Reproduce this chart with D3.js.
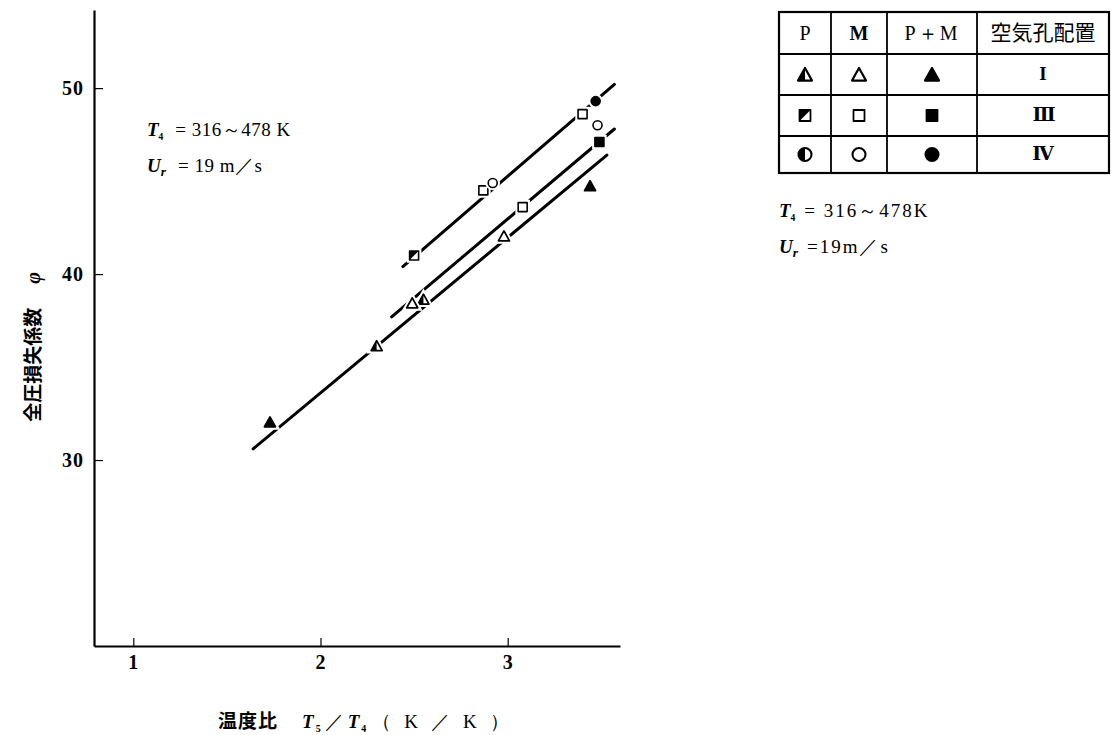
<!DOCTYPE html>
<html>
<head>
<meta charset="utf-8">
<script src="https://cdn.jsdelivr.net/npm/d3@7"></script>
<style>
  html, body { margin: 0; padding: 0; background: #fff; }
  svg { display: block; }
  .serif { font-family: "Liberation Serif", "DejaVu Serif", serif; }
  .cjk { font-family: "Noto Sans CJK JP", "Noto Sans", sans-serif; }
</style>
</head>
<body>
<svg id="chart" width="1111" height="735"></svg>
<script>
// ---- data -------------------------------------------------------------
const xTicks = [1, 2, 3];
const yTicks = [30, 40, 50];

// Hole arrangement I (triangles): P = half filled, M = open, P+M = filled
const triP  = [[2.30, 36.1], [2.55, 38.6]];
const triM  = [[2.49, 38.4], [2.98, 42.0]];
const triPM = [[1.73, 32.0], [3.44, 44.7]];
// Hole arrangement III (squares)
const sqP   = [[2.50, 41.0]];
const sqM   = [[2.87, 44.5], [3.08, 43.6], [3.40, 48.6]];
const sqPM  = [[3.49, 47.1]];
// Hole arrangement IV (circles)
const cirM  = [[2.92, 44.9], [3.48, 48.0]];
const cirPM = [[3.47, 49.3]];

// fitted trend lines
const lineUpper  = [[2.44, 40.4], [3.57, 50.2]];
const lineMiddle = [[2.38, 37.7], [3.57, 47.8]];
const lineLower  = [[1.64, 30.6], [3.53, 46.4]];

const legendHeader = ["P", "M", "P＋M", "空気孔配置"];
const legendRows = [
  { shape: "tri", label: "I" },
  { shape: "sq",  label: "Ⅲ" },
  { shape: "cir", label: "Ⅳ" }
];

// ---- layout -----------------------------------------------------------
const svg = d3.select("#chart");
const x = d3.scaleLinear().domain([0.79, 3.6]).range([94, 620]);
const y = d3.scaleLinear().domain([20, 54.2]).range([646, 10]);

// ---- axes -------------------------------------------------------------
const xAxis = svg.append("g")
  .attr("transform", `translate(0,${y(20)})`)
  .call(d3.axisBottom(x).tickValues(xTicks).tickSize(-8).tickSizeOuter(0)
    .tickPadding(9).tickFormat(d3.format("d")));
const yAxis = svg.append("g")
  .attr("transform", `translate(${x(0.79)},0)`)
  .call(d3.axisLeft(y).tickValues(yTicks).tickSize(-9).tickSizeOuter(0)
    .tickPadding(10).tickFormat(d3.format("d")));

[xAxis, yAxis].forEach(g => {
  g.select(".domain").attr("stroke", "#000").attr("stroke-width", 2.2);
  g.selectAll(".tick line").attr("stroke", "#000").attr("stroke-width", 1.2);
  g.selectAll(".tick text")
    .attr("class", "serif")
    .attr("font-size", 20)
    .attr("font-weight", "bold")
    .attr("letter-spacing", 1)
    .attr("fill", "#000");
});

// ---- trend lines -------------------------------------------------------
const lineGen = d3.line().x(d => x(d[0])).y(d => y(d[1]));
[lineUpper, lineMiddle, lineLower].forEach(l => {
  svg.append("path")
    .attr("d", lineGen(l))
    .attr("fill", "none")
    .attr("stroke", "#000")
    .attr("stroke-width", 3)
    .attr("stroke-linecap", "round");
});

// ---- marker drawing ----------------------------------------------------
// kind: "P" half filled, "M" open, "PM" filled
function drawMarker(g, shape, kind, cx, cy, s) {
  const m = g.append("g").attr("transform", `translate(${cx},${cy})`);
  const sw = Math.max(1.6, s * 0.16);
  let outline;
  if (shape === "tri") {
    const h = s * 0.9;
    outline = `M0,${-h * 0.6}L${s / 2},${h * 0.4}L${-s / 2},${h * 0.4}Z`;
    m.append("path").attr("d", outline).attr("fill", "#fff")
      .attr("stroke", "#fff").attr("stroke-width", sw + 4);
    m.append("path").attr("d", outline)
      .attr("fill", kind === "PM" ? "#000" : "#fff");
    if (kind === "P") {
      m.append("path").attr("d", `M0,${-h * 0.6}L0,${h * 0.4}L${-s / 2},${h * 0.4}Z`)
        .attr("fill", "#000");
    }
  } else if (shape === "sq") {
    const a = s / 2;
    outline = `M${-a},${-a}H${a}V${a}H${-a}Z`;
    m.append("path").attr("d", outline).attr("fill", "#fff")
      .attr("stroke", "#fff").attr("stroke-width", sw + 4);
    m.append("path").attr("d", outline)
      .attr("fill", kind === "PM" ? "#000" : "#fff");
    if (kind === "P") {
      m.append("path").attr("d", `M${-a},${-a}H${a}L${-a},${a}Z`).attr("fill", "#000");
    }
  } else {
    const r = s / 2;
    m.append("circle").attr("r", r).attr("fill", "#fff")
      .attr("stroke", "#fff").attr("stroke-width", sw + 4);
    m.append("circle").attr("r", r).attr("fill", kind === "PM" ? "#000" : "#fff");
    if (kind === "P") {
      m.append("path").attr("d", `M0,${-r}A${r},${r} 0 0 0 0,${r}Z`).attr("fill", "#000");
    }
    outline = null;
  }
  if (outline) {
    m.append("path").attr("d", outline).attr("fill", "none")
      .attr("stroke", "#000").attr("stroke-width", sw).attr("stroke-linejoin", "round");
  } else {
    m.append("circle").attr("r", s / 2).attr("fill", "none")
      .attr("stroke", "#000").attr("stroke-width", sw);
  }
}

const pts = svg.append("g");
const series = [
  ["tri", "P", triP], ["tri", "M", triM], ["tri", "PM", triPM],
  ["sq", "P", sqP], ["sq", "M", sqM], ["sq", "PM", sqPM],
  ["cir", "M", cirM], ["cir", "PM", cirPM]
];
const plotSize = { tri: 11, sq: 9, cir: 9 };
series.forEach(([shape, kind, data]) => {
  data.forEach(d => drawMarker(pts, shape, kind, x(d[0]), y(d[1]), plotSize[shape]));
});

// ---- condition notes ----------------------------------------------------
function condNote(tx, ty, fs, gap, ls, line1, line2) {
  const t1 = svg.append("text").attr("class", "serif").attr("x", tx).attr("y", ty)
    .attr("font-size", fs).attr("fill", "#000");
  t1.append("tspan").attr("font-style", "italic").attr("font-weight", "bold").text("T");
  t1.append("tspan").attr("font-size", fs * 0.5).attr("font-weight", "bold").attr("dy", 4).text("4");
  t1.append("tspan").attr("dy", -4).attr("dx", gap).attr("letter-spacing", ls).text(line1);

  const t2 = svg.append("text").attr("class", "serif").attr("x", tx).attr("y", ty + 36)
    .attr("font-size", fs).attr("fill", "#000");
  t2.append("tspan").attr("font-style", "italic").attr("font-weight", "bold").text("U");
  t2.append("tspan").attr("font-size", fs * 0.7).attr("font-style", "italic")
    .attr("font-weight", "bold").attr("dy", 4).text("r");
  t2.append("tspan").attr("dy", -4).attr("dx", gap).attr("letter-spacing", ls).text(line2);
}
condNote(147, 136, 19, 12, 0.5, "=  316～478 K", "=  19 m／s");
condNote(779, 217, 19, 9, 2, "= 316～478K", "=19m／s");

// ---- axis titles --------------------------------------------------------
const xt = svg.append("text").attr("x", 218).attr("y", 728).attr("font-size", 19)
  .attr("fill", "#000");
xt.append("tspan").attr("class", "cjk").attr("font-weight", "bold")
  .attr("letter-spacing", 1).text("温度比");
xt.append("tspan").attr("class", "serif").attr("dx", 24).attr("font-style", "italic")
  .attr("font-weight", "bold").text("T");
xt.append("tspan").attr("class", "serif").attr("font-size", 10).attr("font-weight", "bold")
  .attr("dy", 4).attr("dx", 2).text("5");
xt.append("tspan").attr("class", "serif").attr("dy", -4).attr("dx", 4).text("／");
xt.append("tspan").attr("class", "serif").attr("font-style", "italic")
  .attr("font-weight", "bold").attr("dx", 4).text("T");
xt.append("tspan").attr("class", "serif").attr("font-size", 10).attr("font-weight", "bold")
  .attr("dy", 4).attr("dx", 2).text("4");
xt.append("tspan").attr("class", "serif").attr("dy", -4).attr("dx", 6)
  .attr("letter-spacing", 13).text("（K／K）");

const yt = svg.append("text")
  .attr("transform", "translate(40,347) rotate(-90)")
  .attr("text-anchor", "middle").attr("font-size", 19).attr("fill", "#000");
yt.append("tspan").attr("class", "cjk").attr("font-weight", "bold").text("全圧損失係数");
yt.append("tspan").attr("class", "serif").attr("dx", 24).attr("font-style", "italic")
  .attr("font-weight", "bold").attr("font-size", 20).text("φ");

// ---- legend table -------------------------------------------------------
const colX = [779, 831, 887, 977, 1109];
const rowY = [12, 54, 95, 136, 173];
const leg = svg.append("g");
leg.append("rect").attr("x", colX[0]).attr("y", rowY[0])
  .attr("width", colX[4] - colX[0]).attr("height", rowY[4] - rowY[0])
  .attr("fill", "none").attr("stroke", "#000").attr("stroke-width", 2.2);
colX.slice(1, 4).forEach(cx => leg.append("line")
  .attr("x1", cx).attr("x2", cx).attr("y1", rowY[0]).attr("y2", rowY[4])
  .attr("stroke", "#000").attr("stroke-width", 1.8));
rowY.slice(1, 4).forEach(ry => leg.append("line")
  .attr("x1", colX[0]).attr("x2", colX[4]).attr("y1", ry).attr("y2", ry)
  .attr("stroke", "#000").attr("stroke-width", 1.8));

const colMid = i => (colX[i] + colX[i + 1]) / 2;
const rowMid = i => (rowY[i] + rowY[i + 1]) / 2;
legendHeader.forEach((h, i) => {
  leg.append("text")
    .attr("class", i === 3 ? "cjk" : "serif")
    .attr("x", colMid(i)).attr("y", rowMid(0) + 7)
    .attr("text-anchor", "middle").attr("font-size", i === 3 ? 21 : 20)
    .attr("font-weight", i === 1 ? "bold" : "normal")
    .attr("letter-spacing", i === 2 ? 2 : 0)
    .attr("fill", "#000").text(h);
});
const legSize = { tri: 14, sq: 11, cir: 13 };
legendRows.forEach((r, i) => {
  const cy = rowMid(i + 1) + (r.shape === "tri" ? 1 : 0);
  ["P", "M", "PM"].forEach((k, j) => drawMarker(leg, r.shape, k, colMid(j), cy, legSize[r.shape]));
  leg.append("text").attr("class", "serif")
    .attr("x", colMid(3)).attr("y", rowMid(i + 1) + 5)
    .attr("text-anchor", "middle").attr("font-size", 19).attr("font-weight", "bold")
    .attr("letter-spacing", r.label === "Ⅲ" ? -2 : 0)
    .attr("fill", "#000").text(r.label);
});
</script>
</body>
</html>
